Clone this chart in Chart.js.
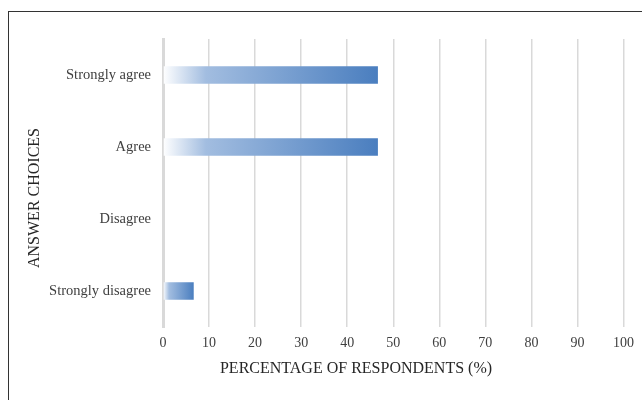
<!DOCTYPE html>
<html>
<head>
<meta charset="utf-8">
<script src="https://cdn.jsdelivr.net/npm/chart.js@4/dist/chart.umd.min.js"></script>
<style>
  html, body { margin: 0; padding: 0; background: #fff; }
  #wrap { position: relative; width: 642px; height: 400px; overflow: hidden; }
  #frame { position: absolute; left: 8px; top: 11px; width: 700px; height: 500px; border: 1.5px solid #333; box-sizing: border-box; pointer-events: none; }
  canvas { position: absolute; left: 0; top: 0; }
</style>
</head>
<body>
<div id="wrap">
  <canvas id="c" width="642" height="400"></canvas>
  <div id="frame"></div>
</div>
<script>
const categories = ["Strongly agree", "Agree", "Disagree", "Strongly disagree"];
const percentages = [46.67, 46.67, 0, 6.67];
const xTicks = [0, 10, 20, 30, 40, 50, 60, 70, 80, 90, 100];
const xTitle = "PERCENTAGE OF RESPONDENTS (%)";
const yTitle = "ANSWER CHOICES";

const FONT = "'Liberation Serif', 'DejaVu Serif', serif";

function barGradient(context) {
  const chart = context.chart;
  const area = chart.chartArea;
  if (!area) return '#4a7ebf';
  const xs = chart.scales.x;
  const v = context.raw;
  const x0 = xs.getPixelForValue(0);
  const x1 = xs.getPixelForValue(v || 0.0001);
  const g = chart.ctx.createLinearGradient(x0, 0, x1, 0);
  g.addColorStop(0, 'rgba(255,255,255,1)');
  g.addColorStop(0.2, '#a2bde0');
  g.addColorStop(1, '#4a7ebf');
  return g;
}

// Axis titles placed like the original (centred on the whole chart frame, not the plot area)
const axisTitles = {
  id: 'axisTitles',
  afterDraw(chart) {
    const ctx = chart.ctx;
    ctx.save();
    ctx.fillStyle = '#262626';
    ctx.font = "16px " + FONT;
    ctx.textAlign = 'center';
    ctx.textBaseline = 'middle';
    ctx.fillText(xTitle, 356, 369);
    ctx.translate(35, 198);
    ctx.rotate(-Math.PI / 2);
    ctx.fillText(yTitle, 0, 0);
    ctx.restore();
  }
};

new Chart(document.getElementById('c'), {
  type: 'bar',
  data: {
    labels: categories,
    datasets: [{
      data: percentages,
      backgroundColor: barGradient,
      borderWidth: 0,
      categoryPercentage: 1,
      barPercentage: 0.24
    }]
  },
  options: {
    indexAxis: 'y',
    responsive: false,
    animation: false,
    layout: { padding: { left: 20, top: 39, right: 12, bottom: 0 } },
    plugins: { legend: { display: false }, tooltip: { enabled: false } },
    scales: {
      x: {
        min: 0, max: 100,
        afterBuildTicks: (s) => { s.ticks = xTicks.map(v => ({ value: v })); },
        afterFit: (s) => { s.height = 73; },
        grid: { color: '#d9d9d9', lineWidth: 1.5, drawTicks: false },
        border: { display: false },
        ticks: { color: '#404040', font: { family: FONT, size: 14 }, padding: 8, maxRotation: 0 },
        title: { display: false }
      },
      y: {
        afterFit: (s) => { s.width = 143; },
        grid: { display: false, drawTicks: false },
        border: { display: true, color: '#d9d9d9', width: 3 },
        ticks: { color: '#404040', font: { family: FONT, size: 14.5 }, padding: 12 },
        title: { display: false }
      }
    }
  },
  plugins: [axisTitles]
});
</script>
</body>
</html>
